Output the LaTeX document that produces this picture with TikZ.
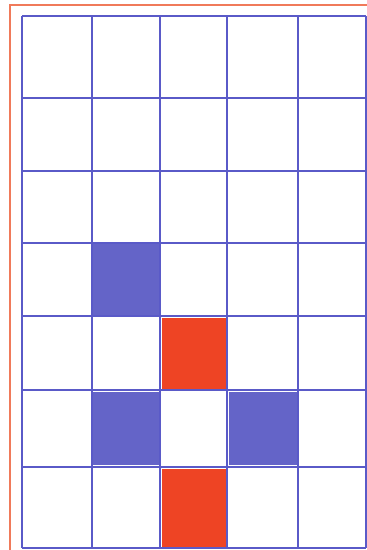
\documentclass[tikz,border=0pt]{standalone}
\definecolor{gridblue}{HTML}{5A5AC8}
\definecolor{fillblue}{HTML}{6464C8}
\definecolor{fillred}{HTML}{EE4424}
\definecolor{frameorange}{HTML}{F07A5A}
\tikzset{
  gridline/.style={draw=gridblue, line width=1.6pt},
  frameline/.style={draw=frameorange, line width=2.2pt},
  bluecell/.style={fill=fillblue},
  redcell/.style={fill=fillred},
}
\begin{document}
\begin{tikzpicture}[x=1pt,y=-1pt]
\useasboundingbox (0,0) rectangle (367,550);
\fill[white] (0,0) rectangle (367,550);
% frame
\draw[frameline] (10,550) -- (10,5) -- (367,5);
% filled cells
\fill[bluecell] (93,244) rectangle (159,315);
\fill[redcell] (162,318) rectangle (227,389);
\fill[bluecell] (93,392) rectangle (159,465);
\fill[bluecell] (229,392) rectangle (297,465);
\fill[redcell] (162,469) rectangle (227,548);
% grid
\foreach \x in {22,92,160,227,298,366}
  \draw[gridline] (\x,16) -- (\x,548);
\foreach \y in {16,98,171,243,316,390,467,548}
  \draw[gridline] (22,\y) -- (366,\y);
\end{tikzpicture}
\end{document}
